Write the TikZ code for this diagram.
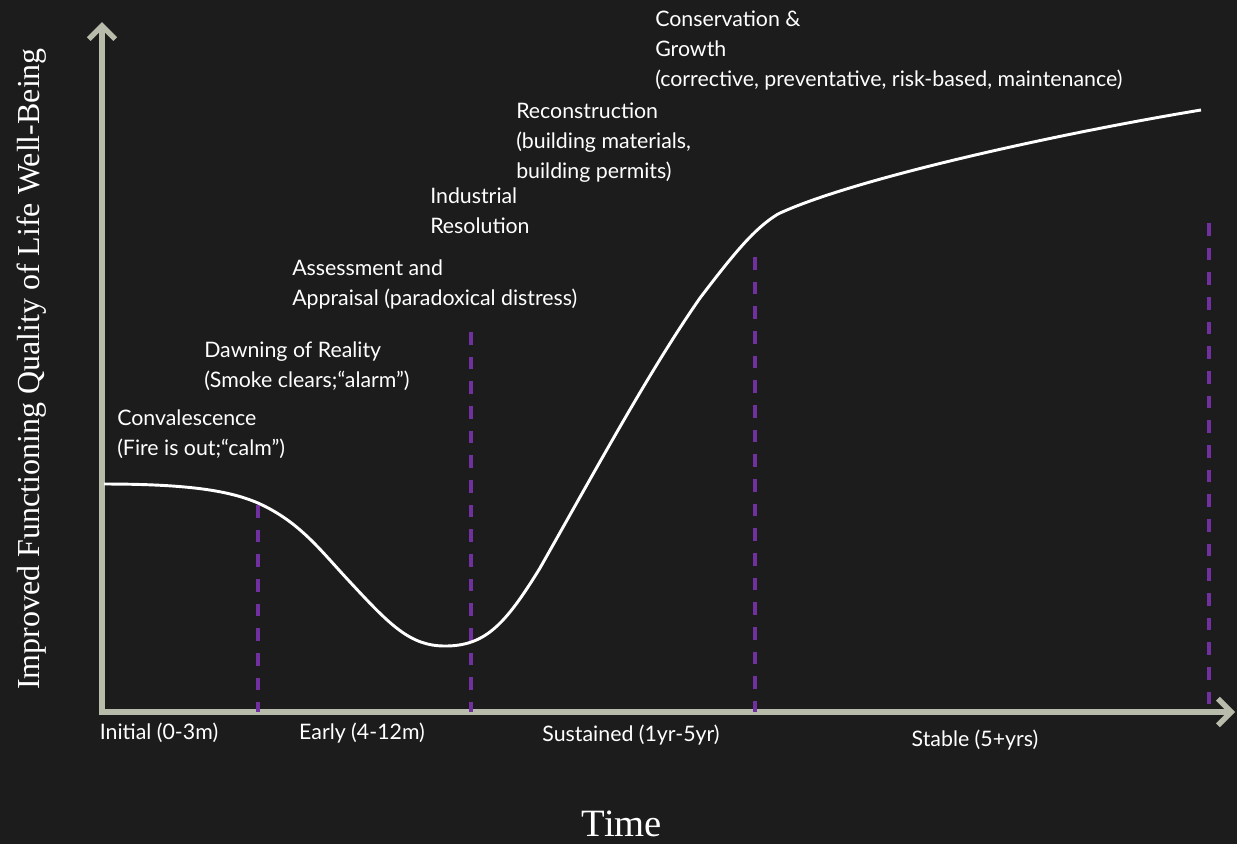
\documentclass[tikz,border=0pt]{standalone}
\usepackage{fontspec}
\usetikzlibrary{arrows.meta}
\newfontfamily\labelfont{Lato}
\newfontfamily\axisfont{Liberation Serif}
\definecolor{bgdark}{RGB}{28,28,28}
\definecolor{axisgray}{RGB}{184,188,170}
\definecolor{phaseviolet}{RGB}{112,48,160}
\tikzset{
  axisline/.style={draw=axisgray, line width=4pt,
    {Straight Barb[length=10pt,width=20pt]}-{Straight Barb[length=10pt,width=20pt]}},
  phaseline/.style={draw=phaseviolet, line width=2.3pt, dash pattern=on 9.5pt off 9pt},
  trend/.style={draw=white, line width=2.2pt},
  stagelabel/.style={text=white, inner sep=0pt, anchor=north west, align=left,
    font=\labelfont\fontsize{16pt}{22.2pt}\selectfont},
  periodlabel/.style={text=white, inner sep=0pt, font=\labelfont\fontsize{16pt}{18pt}\selectfont},
  axistitle/.style={text=white, inner sep=0pt, font=\axisfont\fontsize{24pt}{28pt}\selectfont}
}
\begin{document}
\begin{tikzpicture}[x=0.75pt,y=-0.75pt]
  % canvas
  \fill[bgdark] (0,0) rectangle (1237,844);
  \useasboundingbox (0,0) rectangle (1237,844);

  % axes
  \coordinate (origin) at (102,712);
  \coordinate (ytip) at (102,22);
  \coordinate (xtip) at (1235,712);
  \draw[axisline] (ytip) -- (origin) -- (xtip);

  % phase boundaries
  \coordinate (p1top) at (258,505);  \coordinate (p1bot) at (258,712);
  \coordinate (p2top) at (471,332);  \coordinate (p2bot) at (471,712);
  \coordinate (p3top) at (755,257);  \coordinate (p3bot) at (755,712);
  \coordinate (p4top) at (1209,223); \coordinate (p4bot) at (1209,712);
  \draw[phaseline] (p1top) -- (p1bot);
  \draw[phaseline] (p2top) -- (p2bot);
  \draw[phaseline] (p3top) -- (p3bot);
  \draw[phaseline] (p4top) -- (p4bot);

  % recovery curve
  \draw[trend] (104,484)
    .. controls (190,484) and (230,491) .. (258,503)
    .. controls (300,522) and (320,550) .. (350,582)
    .. controls (390,625) and (410,646) .. (445,646)
    .. controls (485,646) and (505,625) .. (540,568)
    .. controls (600,462) and (650,370) .. (700,298)
    .. controls (735,252) and (755,228) .. (778,214)
    .. controls (850,180) and (1050,135) .. (1201,110);

  % stage labels
  \node[stagelabel] (conv) at (117,410) {Convalescence\\(Fire is out;“calm”)};
  \node[stagelabel] (dawn) at (204,342) {Dawning of Reality\\(Smoke clears;“alarm”)};
  \node[stagelabel] (assess) at (292,260) {Assessment and\\Appraisal (paradoxical distress)};
  \node[stagelabel] (indus) at (430,188) {Industrial\\Resolution};
  \node[stagelabel] (recon) at (516,103) {Reconstruction\\(building materials,\\building permits)};
  \node[stagelabel] (cons) at (655,11) {Conservation \&\\Growth\\(corrective, preventative, risk-based, maintenance)};

  % period labels
  \node[periodlabel] (initial) at (159,733) {Initial (0-3m)};
  \node[periodlabel] (early) at (362,733) {Early (4-12m)};
  \node[periodlabel] (sustained) at (631,735) {Sustained (1yr-5yr)};
  \node[periodlabel] (stable) at (975,740) {Stable (5+yrs)};

  % axis titles
  \node[axistitle, anchor=base, font=\axisfont\fontsize{29pt}{32pt}\selectfont] (time) at (622,836) {Time};
  \node[axistitle, rotate=90] (wellbeing) at (32,369) {Improved Functioning Quality of Life Well-Being};
\end{tikzpicture}
\end{document}
